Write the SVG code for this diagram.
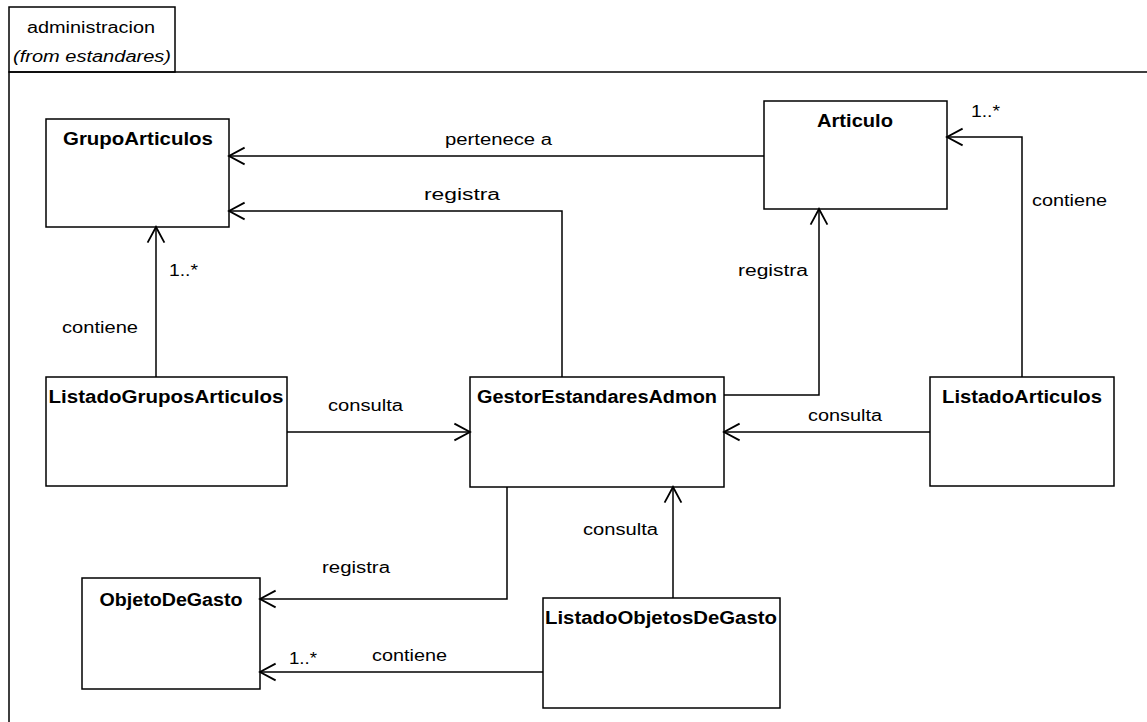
<svg xmlns="http://www.w3.org/2000/svg" width="1147" height="722" viewBox="0 0 1147 722">
<style>
.box{fill:#fff;stroke:#000;stroke-width:1.5}
.title{font-family:"Liberation Sans",Arial,sans-serif;font-weight:bold;font-size:18px;text-anchor:middle}
.lbl{font-family:"Liberation Sans",Arial,sans-serif;font-size:16px}
.conn path{fill:none;stroke:#000;stroke-width:1.5}
</style>
<defs>
<marker id="open" markerUnits="userSpaceOnUse" markerWidth="24" markerHeight="24" refX="0" refY="0" viewBox="-14 -10 16 20" orient="auto" overflow="visible">
<path d="M-13,-7 L0,0 L-13,7" fill="none" stroke="#000" stroke-width="1.5"/>
</marker>
</defs>
<rect width="1147" height="722" fill="#fff"/>
<g id="package">
<rect x="9" y="7" width="166" height="65" fill="#fff" stroke="#000" stroke-width="1.5"/>
<path d="M9,722 V72 H1147" fill="none" stroke="#000" stroke-width="1.5"/>
<text class="lbl" x="27" y="33" textLength="128" lengthAdjust="spacingAndGlyphs">administracion</text>
<text class="lbl" x="13" y="62" font-style="italic" textLength="158" lengthAdjust="spacingAndGlyphs">(from estandares)</text>
</g>
<g id="GrupoArticulos">
<rect class="box" x="46" y="119" width="183" height="108"/>
<text class="title" x="138" y="145" textLength="150" lengthAdjust="spacingAndGlyphs">GrupoArticulos</text>
</g>
<g id="Articulo">
<rect class="box" x="764" y="101" width="183" height="108"/>
<text class="title" x="855" y="127" textLength="76" lengthAdjust="spacingAndGlyphs">Articulo</text>
</g>
<g id="ListadoGruposArticulos">
<rect class="box" x="46" y="377" width="241" height="109"/>
<text class="title" x="166" y="403" textLength="235" lengthAdjust="spacingAndGlyphs">ListadoGruposArticulos</text>
</g>
<g id="GestorEstandaresAdmon">
<rect class="box" x="470" y="377" width="254" height="110"/>
<text class="title" x="597" y="403" textLength="240" lengthAdjust="spacingAndGlyphs">GestorEstandaresAdmon</text>
</g>
<g id="ListadoArticulos">
<rect class="box" x="930" y="377" width="184" height="109"/>
<text class="title" x="1022" y="403" textLength="160" lengthAdjust="spacingAndGlyphs">ListadoArticulos</text>
</g>
<g id="ObjetoDeGasto">
<rect class="box" x="82" y="578" width="178" height="111"/>
<text class="title" x="171" y="606" textLength="143" lengthAdjust="spacingAndGlyphs">ObjetoDeGasto</text>
</g>
<g id="ListadoObjetosDeGasto">
<rect class="box" x="543" y="598" width="237" height="110"/>
<text class="title" x="661" y="624" textLength="232" lengthAdjust="spacingAndGlyphs">ListadoObjetosDeGasto</text>
</g>
<g id="connectors" class="conn">
<path d="M764,156 H229" marker-end="url(#open)"/>
<path d="M562,377 V211 H229" marker-end="url(#open)"/>
<path d="M724,395 H819 V209" marker-end="url(#open)"/>
<path d="M1022,377 V137 H947" marker-end="url(#open)"/>
<path d="M156,377 V227" marker-end="url(#open)"/>
<path d="M287,432 H470" marker-end="url(#open)"/>
<path d="M930,432 H724" marker-end="url(#open)"/>
<path d="M507,487 V599 H260" marker-end="url(#open)"/>
<path d="M673,598 V487" marker-end="url(#open)"/>
<path d="M543,672 H260" marker-end="url(#open)"/>
</g>
<g id="labels">
<text class="lbl" x="445" y="145" textLength="107" lengthAdjust="spacingAndGlyphs">pertenece a</text>
<text class="lbl" x="424" y="200" textLength="76" lengthAdjust="spacingAndGlyphs">registra</text>
<text class="lbl" x="738" y="276" textLength="70" lengthAdjust="spacingAndGlyphs">registra</text>
<text class="lbl" x="971" y="117" textLength="29" lengthAdjust="spacingAndGlyphs">1..*</text>
<text class="lbl" x="1032" y="206" textLength="75" lengthAdjust="spacingAndGlyphs">contiene</text>
<text class="lbl" x="169" y="276" textLength="29" lengthAdjust="spacingAndGlyphs">1..*</text>
<text class="lbl" x="62" y="333" textLength="76" lengthAdjust="spacingAndGlyphs">contiene</text>
<text class="lbl" x="328" y="411" textLength="75" lengthAdjust="spacingAndGlyphs">consulta</text>
<text class="lbl" x="808" y="421" textLength="74" lengthAdjust="spacingAndGlyphs">consulta</text>
<text class="lbl" x="583" y="535" textLength="75" lengthAdjust="spacingAndGlyphs">consulta</text>
<text class="lbl" x="322" y="573" textLength="68" lengthAdjust="spacingAndGlyphs">registra</text>
<text class="lbl" x="289" y="664" textLength="28" lengthAdjust="spacingAndGlyphs">1..*</text>
<text class="lbl" x="372" y="661" textLength="75" lengthAdjust="spacingAndGlyphs">contiene</text>
</g>
</svg>
